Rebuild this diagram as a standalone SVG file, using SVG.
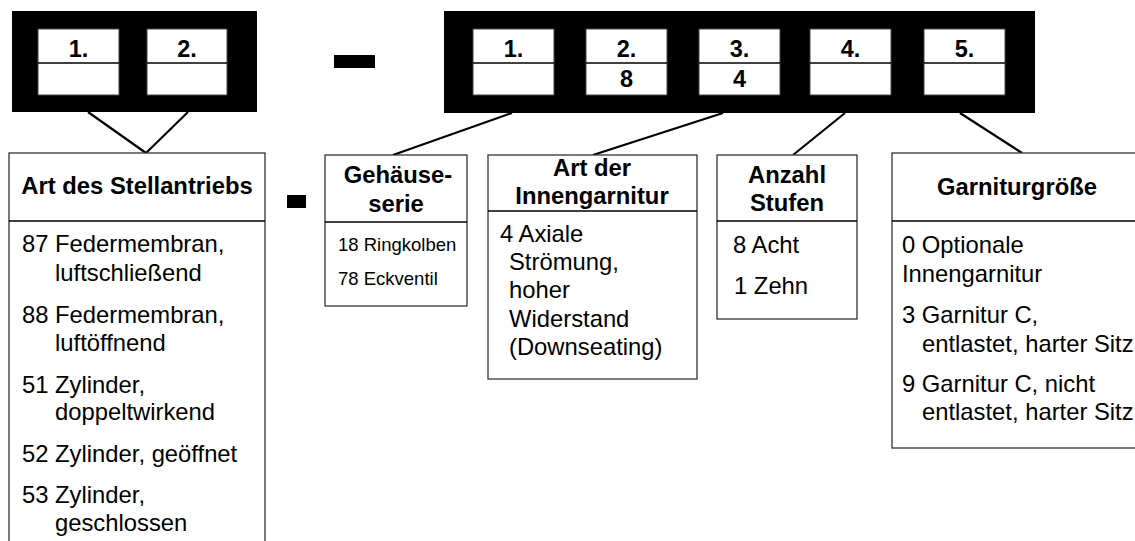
<svg xmlns="http://www.w3.org/2000/svg" width="1135" height="541" viewBox="0 0 1135 541">
<style>
.blk{fill:#000}
.cell{fill:#fff;stroke:#444;stroke-width:1}
.div{stroke:#000;stroke-width:1.3}
.box{fill:#fff;stroke:#333;stroke-width:1.3}
.hd{font-family:"Liberation Sans",Arial,sans-serif;font-weight:bold;font-size:23.8px;fill:#000;text-anchor:middle}
.num{font-family:"Liberation Sans",Arial,sans-serif;font-weight:bold;font-size:23.5px;fill:#000;text-anchor:middle}
.tx{font-family:"Liberation Sans",Arial,sans-serif;font-size:23.8px;fill:#000}
.sm{font-family:"Liberation Sans",Arial,sans-serif;font-size:18.5px;fill:#000}
.con{stroke:#000;stroke-width:2.2;fill:none}
</style>
<g id="code-left">
<rect class="blk" x="12" y="11" width="245" height="101"/>
<rect class="cell" x="38" y="29" width="81" height="66"/>
<line class="div" x1="38" y1="63" x2="119" y2="63"/>
<text class="num" x="78.5" y="57">1.</text>
<rect class="cell" x="147" y="29" width="80" height="66"/>
<line class="div" x1="147" y1="63" x2="227" y2="63"/>
<text class="num" x="187" y="57">2.</text>
</g>
<g id="dash-top"><rect class="blk" x="334" y="55" width="41" height="13"/></g>
<g id="code-right">
<rect class="blk" x="444" y="11" width="591" height="102"/>
<rect class="cell" x="473" y="29" width="81" height="66"/>
<line class="div" x1="473" y1="63" x2="554" y2="63"/>
<text class="num" x="513.5" y="57">1.</text>
<rect class="cell" x="586" y="29" width="81" height="66"/>
<line class="div" x1="586" y1="63" x2="667" y2="63"/>
<text class="num" x="626.5" y="57">2.</text>
<text class="num" x="626.5" y="87">8</text>
<rect class="cell" x="699" y="29" width="81" height="66"/>
<line class="div" x1="699" y1="63" x2="780" y2="63"/>
<text class="num" x="739.5" y="57">3.</text>
<text class="num" x="739.5" y="87">4</text>
<rect class="cell" x="810" y="29" width="81" height="66"/>
<line class="div" x1="810" y1="63" x2="891" y2="63"/>
<text class="num" x="850.5" y="57">4.</text>
<rect class="cell" x="924" y="29" width="81" height="66"/>
<line class="div" x1="924" y1="63" x2="1005" y2="63"/>
<text class="num" x="964.5" y="57">5.</text>
</g>
<g id="connectors">
<line class="con" x1="88" y1="112" x2="146" y2="153"/>
<line class="con" x1="188" y1="112" x2="146" y2="153"/>
<line class="con" x1="512" y1="113" x2="393" y2="155"/>
<line class="con" x1="723" y1="113" x2="593" y2="155"/>
<line class="con" x1="845" y1="113" x2="793" y2="155"/>
<line class="con" x1="960" y1="113" x2="1022" y2="153"/>
</g>
<g id="stellantrieb">
<rect class="box" x="9" y="153" width="256" height="410"/>
<line class="div" x1="9" y1="221" x2="265" y2="221"/>
<text class="hd" x="137" y="194">Art des Stellantriebs</text>
<text class="tx" x="22" y="252">87 Federmembran,</text>
<text class="tx" x="55" y="281">luftschließend</text>
<text class="tx" x="22" y="323">88 Federmembran,</text>
<text class="tx" x="55" y="351">luftöffnend</text>
<text class="tx" x="22" y="393">51 Zylinder,</text>
<text class="tx" x="55" y="420">doppeltwirkend</text>
<text class="tx" x="22" y="462">52 Zylinder, geöffnet</text>
<text class="tx" x="22" y="503">53 Zylinder,</text>
<text class="tx" x="55" y="531">geschlossen</text>
</g>
<g id="dash-mid"><rect class="blk" x="287" y="195" width="19" height="13"/></g>
<g id="gehaeuse">
<rect class="box" x="325" y="155" width="142" height="151"/>
<line class="div" x1="325" y1="222" x2="467" y2="222"/>
<text class="hd" x="398" y="183">Gehäuse-</text>
<text class="hd" x="396" y="212">serie</text>
<text class="sm" x="338" y="251">18 Ringkolben</text>
<text class="sm" x="338" y="285">78 Eckventil</text>
</g>
<g id="innengarnitur">
<rect class="box" x="488" y="155" width="209" height="224"/>
<line class="div" x1="488" y1="211" x2="697" y2="211"/>
<text class="hd" x="592" y="176">Art der</text>
<text class="hd" x="592" y="204">Innengarnitur</text>
<text class="tx" x="500" y="242">4 Axiale</text>
<text class="tx" x="509" y="270">Strömung,</text>
<text class="tx" x="509" y="298">hoher</text>
<text class="tx" x="509" y="327">Widerstand</text>
<text class="tx" x="509" y="355">(Downseating)</text>
</g>
<g id="stufen">
<rect class="box" x="717" y="155" width="140" height="164"/>
<line class="div" x1="717" y1="221" x2="857" y2="221"/>
<text class="hd" x="787" y="183">Anzahl</text>
<text class="hd" x="787" y="211">Stufen</text>
<text class="tx" x="733" y="253">8 Acht</text>
<text class="tx" x="734" y="294">1 Zehn</text>
</g>
<g id="garniturgroesse">
<rect class="box" x="892" y="153" width="260" height="295"/>
<line class="div" x1="892" y1="221" x2="1152" y2="221"/>
<text class="hd" x="1017" y="195">Garniturgröße</text>
<text class="tx" x="902" y="253">0 Optionale</text>
<text class="tx" x="902" y="282">Innengarnitur</text>
<text class="tx" x="902" y="323">3 Garnitur C,</text>
<text class="tx" x="922" y="352">entlastet, harter Sitz</text>
<text class="tx" x="902" y="392">9 Garnitur C, nicht</text>
<text class="tx" x="922" y="420">entlastet, harter Sitz</text>
</g>
</svg>
